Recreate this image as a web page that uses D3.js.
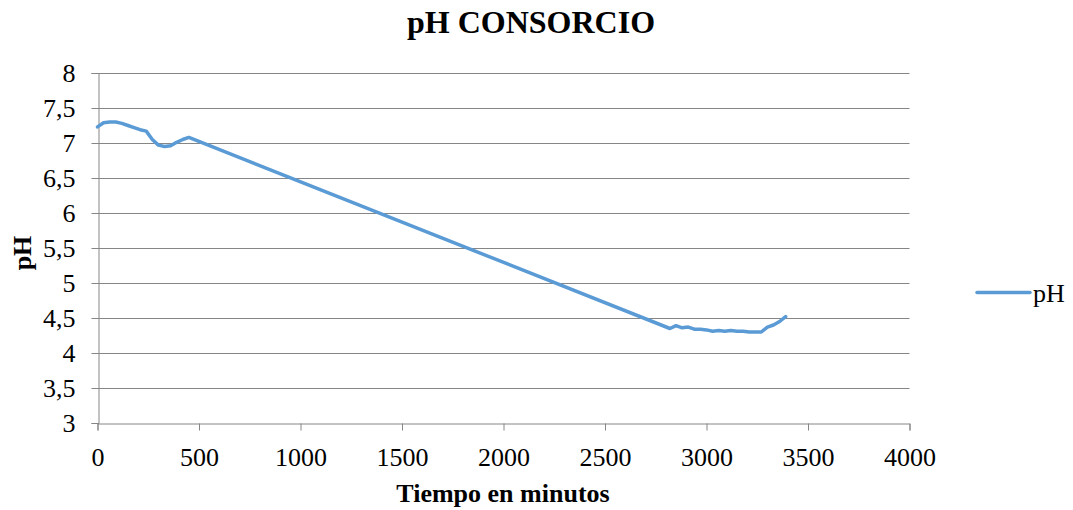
<!DOCTYPE html>
<html>
<head>
<meta charset="utf-8">
<script src="https://cdn.jsdelivr.net/npm/d3@7"></script>
<style>
  body { margin: 0; background: #fff; }
  svg text { font-family: "Liberation Serif", "Times New Roman", Times, serif; fill: #000; }
</style>
</head>
<body>
<svg id="chart" width="1073" height="510"></svg>
<script>
// datos
let minutos = [0, 30, 60, 90, 120, 150, 180, 210, 240, 270, 300, 330, 360, 390, 420, 450,
  2820, 2850, 2880, 2910, 2940, 2970, 3000, 3030, 3060, 3090, 3120, 3150, 3180, 3210, 3240, 3270, 3300, 3330, 3360, 3390];
let valoresPH = [7.23, 7.29, 7.30, 7.30, 7.28, 7.25, 7.22, 7.19, 7.17, 7.05, 6.97, 6.95, 6.96, 7.01, 7.05, 7.08,
  4.35, 4.39, 4.36, 4.37, 4.34, 4.34, 4.33, 4.31, 4.32, 4.31, 4.32, 4.31, 4.31, 4.30, 4.30, 4.30, 4.37, 4.40, 4.45, 4.52];
let ticksX = [0, 500, 1000, 1500, 2000, 2500, 3000, 3500, 4000];
let ticksY = [3, 3.5, 4, 4.5, 5, 5.5, 6, 6.5, 7, 7.5, 8];

let svg = d3.select('#chart');
let x = d3.scaleLinear().domain([0, 4000]).range([97.5, 909.5]);
let y = d3.scaleLinear().domain([3, 8]).range([423, 73]);
let gris = '#868686';
let azul = '#5B9BD5';
let fuente = '"Liberation Serif", "Times New Roman", Times, serif';
let coma = d => String(d).replace('.', ',');

// rejilla horizontal
svg.append('g').selectAll('line')
  .data(ticksY.filter(d => d > 3))
  .enter().append('line')
  .attr('x1', x(0)).attr('x2', x(4000))
  .attr('y1', d => Math.round(y(d)) + 0.5).attr('y2', d => Math.round(y(d)) + 0.5)
  .attr('stroke', gris).attr('stroke-width', 1);

// eje x
let ejeX = svg.append('g')
  .attr('transform', 'translate(0,' + (Math.round(y(3)) + 0.5) + ')')
  .call(d3.axisBottom(x).tickValues(ticksX).tickSize(7).tickPadding(17).tickFormat(d => d));
ejeX.select('.domain').attr('stroke', gris);
ejeX.selectAll('.tick line').attr('stroke', gris);
ejeX.selectAll('text').style('font-family', fuente).attr('font-size', 26);

// eje y
let ejeY = svg.append('g')
  .attr('transform', 'translate(' + (Math.round(x(0)) + 0.5) + ',0)')
  .call(d3.axisLeft(y).tickValues(ticksY).tickSize(7).tickPadding(16).tickFormat(coma));
ejeY.select('.domain').attr('stroke', gris);
ejeY.selectAll('.tick line').attr('stroke', gris);
ejeY.selectAll('text').style('font-family', fuente).attr('font-size', 26);

// linea de pH (recta en el hueco entre datos)
let linea = d3.line()
  .x((d, i) => x(minutos[i]))
  .y(d => y(d));
svg.append('path')
  .datum(valoresPH)
  .attr('d', linea)
  .attr('fill', 'none')
  .attr('stroke', azul)
  .attr('stroke-width', 3.5)
  .attr('stroke-linecap', 'round')
  .attr('stroke-linejoin', 'round');

// titulos
svg.append('text').attr('x', 531).attr('y', 33).attr('text-anchor', 'middle')
  .style('font-family', fuente).attr('font-size', 32).attr('font-weight', 'bold').text('pH CONSORCIO');
svg.append('text').attr('x', 503).attr('y', 502).attr('text-anchor', 'middle')
  .style('font-family', fuente).attr('font-size', 26).attr('font-weight', 'bold').text('Tiempo en minutos');
svg.append('text').attr('transform', 'translate(31,253) rotate(-90)').attr('text-anchor', 'middle')
  .style('font-family', fuente).attr('font-size', 26).attr('font-weight', 'bold').text('pH');

// leyenda
svg.append('line').attr('x1', 977).attr('x2', 1030).attr('y1', 292.5).attr('y2', 292.5)
  .attr('stroke', azul).attr('stroke-width', 3.5).attr('stroke-linecap', 'round');
svg.append('text').attr('x', 1033).attr('y', 302).style('font-family', fuente)
  .attr('font-size', 26).text('pH');
</script>
</body>
</html>
